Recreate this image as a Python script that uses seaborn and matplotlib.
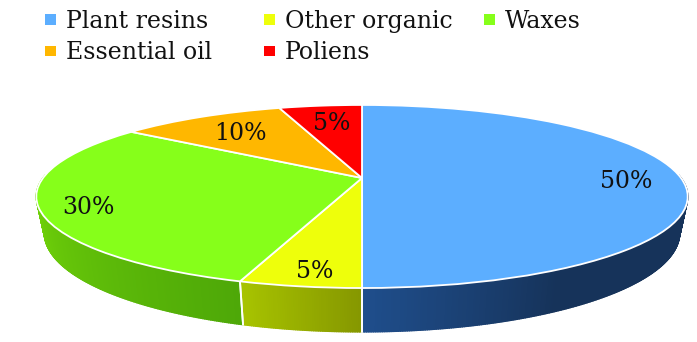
import numpy as np
import matplotlib
matplotlib.use("Agg")
import matplotlib.pyplot as plt
import seaborn as sns
from matplotlib.collections import PolyCollection
from matplotlib.colors import LinearSegmentedColormap
from matplotlib.patches import Patch
from matplotlib.transforms import Transform

# Data
categories = ["Plant resins", "Other organic", "Waxes", "Essential oil", "Poliens"]
shares = [50, 5, 30, 10, 5]
colors = ["#5CAEFF", "#EEFF0B", "#86FF1A", "#FFB700", "#FF0000"]

# Style of the side wall, per slice
wall_stops = [["#1F4E8C", "#16335A", "#16335A", "#16335A"],
              ["#A8C400", "#869800"],
              ["#7ADE0A", "#4EA808"],
              ["#7ADE0A", "#7ADE0A"],
              ["#7ADE0A", "#7ADE0A"]]
label_xy = [(626, 181), (315, 271), (88, 208), (240, 133), (332, 124)]
legend_columns = [([0, 3], 45), ([1, 4], 264), ([2], 484)]
FONT = "DejaVu Serif"

# Perspective of the disc, in figure pixels
CX, CY, A, B, K, D0, TAPER = 362, 178, 319, 87.8, 0.202, 35.0, 0.975


def project(u, v, drop=0.0):
    w = 1 + K * v
    x = CX + A * u / w
    y = CY - B * v / w + drop * D0 / w
    return CX + (x - CX) * (1 - drop * (1 - TAPER)), y


class Perspective(Transform):
    input_dims = output_dims = 2
    is_affine = False
    has_inverse = False

    def transform_non_affine(self, xy):
        xy = np.asarray(xy, float)
        x, y = project(xy[:, 0], xy[:, 1])
        return np.column_stack([x, y])


sns.set_theme(style="white", palette=sns.color_palette(colors))
fig, ax = plt.subplots(figsize=(6.97, 3.42), dpi=100)
fig.subplots_adjust(0, 0, 1, 1)

wedges, _, autotexts = ax.pie(
    shares, startangle=90, counterclock=False, colors=colors,
    autopct="%d%%", wedgeprops=dict(edgecolor="white", linewidth=1.3),
)
ax.set_aspect("auto")
ax.set_xlim(0, 697)
ax.set_ylim(342, 0)
ax.axis("off")

for wedge in wedges:
    wedge.set_transform(Perspective() + ax.transData)
    wedge.set_zorder(3)

# Side wall below the visible front rim
for wedge, stops in zip(wedges, wall_stops):
    spans = [(wedge.theta1, wedge.theta2), (wedge.theta1 + 360, wedge.theta2 + 360),
             (wedge.theta1 - 360, wedge.theta2 - 360)]
    cmap = LinearSegmentedColormap.from_list("wall", stops)
    for t1, t2 in spans:
        lo, hi = max(t1, 178), min(t2, 362)
        if hi <= lo:
            continue
        th = np.radians(np.linspace(lo, hi, max(int((hi - lo) * 3), 2)))
        u, v = np.cos(th), np.sin(th)
        x0, y0 = project(u, v)
        x1, y1 = project(u, v, 1.0)
        polys = [[(x0[i], y0[i]), (x0[i + 1], y0[i + 1]), (x1[i + 1], y1[i + 1]), (x1[i], y1[i])]
                 for i in range(len(th) - 1)]
        cols = cmap(np.linspace(0, 1, len(polys)))
        ax.add_collection(PolyCollection(polys, facecolors=cols, edgecolors=cols,
                                         linewidths=1.0, zorder=2))
        # white seam where two slices meet on the wall
        for t in (lo, hi):
            if 185 < t < 355:
                r = np.radians(t)
                xa, ya = project(np.cos(r), np.sin(r))
                xb, yb = project(np.cos(r), np.sin(r), 1.0)
                ax.plot([xa, xb], [ya, yb], color="white", lw=1.3, zorder=2.5)

for txt, xy in zip(autotexts, label_xy):
    txt.set_position(xy)
    txt.set_ha("center")
    txt.set_va("center")
    txt.set_zorder(5)
    txt.set_color("#111111")
    txt.set_fontfamily(FONT)
    txt.set_fontsize(17)

handles = [Patch(facecolor=c, edgecolor="none", label=n) for n, c in zip(categories, colors)]
for idx, px in legend_columns:
    leg = ax.legend(
        [handles[i] for i in idx], [categories[i] for i in idx],
        loc="upper left", bbox_to_anchor=(px / 697, 1 - 10 / 342), frameon=False,
        prop=dict(family=FONT, size=17), labelcolor="#111111",
        handlelength=0.47, handleheight=0.3, handletextpad=0.42,
        labelspacing=0.35, borderpad=0, borderaxespad=0,
    )
    ax.add_artist(leg)
ax.legend_ = None

fig.savefig("out.png", dpi=100)
